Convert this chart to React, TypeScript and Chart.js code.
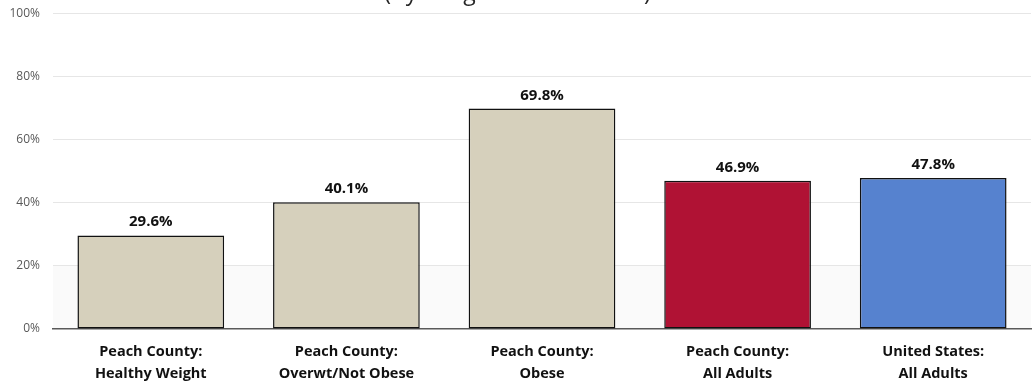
import React, { useEffect, useRef } from "react";
import { Chart, registerables } from "chart.js";

Chart.register(...registerables);

const categories: string[][] = [
  ["Peach County:", "Healthy Weight"],
  ["Peach County:", "Overwt/Not Obese"],
  ["Peach County:", "Obese"],
  ["Peach County:", "All Adults"],
  ["United States:", "All Adults"],
];
const values: number[] = [29.6, 40.1, 69.8, 46.9, 47.8];
const barColors: string[] = ["#D6D0BC", "#D6D0BC", "#D6D0BC", "#B01234", "#5682CF"];
const yMin = 0;
const yMax = 100;
const yStep = 20;
const bandTop = 20;
const titleLines: string[] = ["Trying to Lose Weight", "(By Weight Classification)"];

const FONT = '"Open Sans", "Segoe UI", Arial, sans-serif';

const bandPlugin = {
  id: "lowBand",
  beforeDraw(chart: any) {
    const { ctx, chartArea, scales } = chart;
    const y0 = scales.y.getPixelForValue(yMin);
    const y1 = scales.y.getPixelForValue(bandTop);
    ctx.save();
    ctx.fillStyle = "#FAFAFA";
    ctx.fillRect(chartArea.left, y1, chartArea.right - chartArea.left, y0 - y1);
    ctx.restore();
  },
};

const titlePlugin = {
  id: "cutTitle",
  afterDraw(chart: any) {
    const { ctx, chartArea, width } = chart;
    ctx.save();
    ctx.font = `23px ${FONT}`;
    ctx.fillStyle = "#262626";
    ctx.textAlign = "center";
    ctx.textBaseline = "alphabetic";
    const base = chartArea.top - 13;
    titleLines.forEach((t, i) => {
      ctx.fillText(t, width / 2, base - (titleLines.length - 1 - i) * 30);
    });
    ctx.restore();
  },
};

const valueLabelPlugin = {
  id: "valueLabels",
  afterDatasetsDraw(chart: any) {
    const { ctx } = chart;
    const meta = chart.getDatasetMeta(0);
    ctx.save();
    ctx.font = `bold 15px ${FONT}`;
    ctx.fillStyle = "#111111";
    ctx.textAlign = "center";
    ctx.textBaseline = "alphabetic";
    meta.data.forEach((el: any, i: number) => {
      ctx.fillText(values[i].toFixed(1) + "%", el.x, el.y - 9);
    });
    ctx.restore();
  },
};

export default function App() {
  const ref = useRef<HTMLCanvasElement | null>(null);

  useEffect(() => {
    if (!ref.current) return;
    const chart = new Chart(ref.current, {
      type: "bar",
      data: {
        labels: categories,
        datasets: [
          {
            data: values,
            backgroundColor: barColors,
            borderColor: "#111111",
            borderWidth: 1.5,
            borderSkipped: false,
            categoryPercentage: 1,
            barPercentage: 0.75,
          },
        ],
      },
      options: {
        animation: false,
        responsive: true,
        maintainAspectRatio: false,
        layout: { padding: { top: 8, right: 4, left: 0, bottom: 0 } },
        plugins: {
          legend: { display: false },
          title: { display: false },
          tooltip: { enabled: false },
        },
        scales: {
          x: {
            grid: { display: false, drawTicks: false },
            border: { display: true, color: "#595959", width: 1.5 },
            ticks: {
              color: "#111111",
              font: { family: FONT, size: 14.5, weight: "bold", lineHeight: 1.52 },
              padding: 12,
              maxRotation: 0,
              autoSkip: false,
            },
          },
          y: {
            min: yMin,
            max: yMax,
            grid: { color: "#E6E6E6", lineWidth: 1, drawTicks: false },
            border: { display: false },
            ticks: {
              stepSize: yStep,
              color: "#595959",
              font: { family: FONT, size: 12 },
              padding: 13,
              callback: (v: any) => v + "%",
            },
            afterFit: (scale: any) => {
              scale.width = 53;
            },
          },
        },
      },
      plugins: [bandPlugin, titlePlugin, valueLabelPlugin],
    });
    return () => chart.destroy();
  }, []);

  return (
    <div
      style={{
        position: "fixed",
        left: 0,
        top: 0,
        width: 1035,
        height: 381,
        overflow: "hidden",
        background: "#FFFFFF",
      }}
    >
      <div style={{ position: "absolute", left: 0, top: -7, width: 1035, height: 404 }}>
        <canvas ref={ref} />
      </div>
    </div>
  );
}
